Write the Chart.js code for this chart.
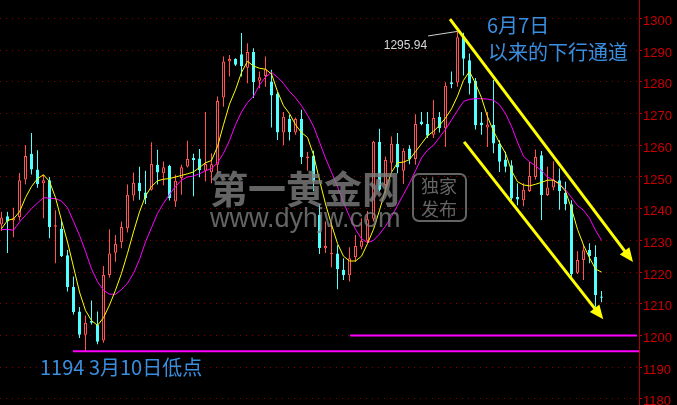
<!DOCTYPE html>
<html>
<head>
<meta charset="utf-8">
<script src="https://cdn.jsdelivr.net/npm/chart.js@4.4.1/dist/chart.umd.min.js"></script>
<style>
  html, body { margin: 0; padding: 0; background: #000; }
  #wrap { width: 677px; height: 405px; position: relative; }
</style>
</head>
<body>
<div id="wrap"><canvas id="kline"></canvas></div>
<script>
// ==============================
// 黄金日K • 6月7日以来的下行通道
// ==============================

// K线（从图上读的，按日顺序）
const opens = [1235,1237.6,1236.3,1237.4,1249.2,1257.3,1252.4,1248,1249,1234.3,
  1233.7,1225.3,1215.3,1207.6,1200.2,1204.6,1203.3,1198.4,1219.1,1226.1,
  1229.4,1233.8,1244.2,1248.2,1245.1,1246,1253.9,1251.2,1253.5,1242.3,
  1249.7,1253.3,1256,1255.8,1252,1251.5,1253.9,1275.1,1286.4,1287.2,
  1288.7,1284.5,1289.4,1280.4,1281.9,1280.1,1276.3,1264,1268.4,1264,
  1268.4,1256,1256.8,1238.1,1227.5,1225.7,1225.9,1220.7,1219,1224.7,
  1228,1229.9,1236.8,1261.1,1247.5,1254.5,1260.5,1252,1259,1255.7,
  1267.5,1266.7,1263.3,1269,1265.4,1279.9,1279.8,1294.3,1286.8,1280.4,
  1267.2,1265.6,1266.5,1260.5,1255.5,1253.7,1243.7,1242.7,1245.6,1250,
  1256.9,1244.3,1246.7,1249,1245,1241.4,1219.8,1223.8,1227,1224.8,
  1212.3];
const highs = [1239,1239,1240.3,1251.3,1260,1263.9,1258.4,1250.7,1250,1239.5,
  1236.3,1227,1218.6,1209,1206.3,1211,1207.6,1221.9,1233.5,1231.7,
  1236,1247.6,1251.4,1253.2,1252,1261,1258.6,1254.9,1253.9,1250.7,
  1253.9,1261.4,1257.3,1258.8,1270.5,1257.5,1275.4,1288,1288.5,1287.5,
  1295.4,1292.2,1290.6,1283.3,1288,1283.8,1276.9,1270.5,1269.6,1268.8,
  1271.2,1257.9,1258.3,1241.5,1236,1235.8,1228.5,1224.4,1227.8,1231.7,
  1237,1239.3,1261.4,1265.2,1256.5,1262.8,1263.9,1259.1,1260,1269.8,
  1270.5,1270.5,1274.3,1270.5,1279.9,1283.3,1295.94,1295.5,1289,1281.2,
  1270.5,1270.5,1280.6,1261.6,1258,1255.3,1248,1248,1254.8,1258.7,
  1258.2,1253.2,1255,1252.7,1248.5,1242.7,1226.6,1228.8,1229.1,1228.5,
  1214];
const lows = [1233,1226,1231,1236.3,1247.7,1250.8,1246.6,1237,1230.7,1222.8,
  1224.8,1213.9,1206.6,1199.2,1195.3,1203.5,1197.2,1197.7,1218.3,1223.3,
  1227.5,1232.5,1242.5,1242.8,1241.5,1245.7,1247.6,1247.4,1242.6,1240.5,
  1244.4,1253,1243.9,1249.9,1248.6,1248,1251.2,1272.2,1281.7,1285,
  1281.7,1279.6,1274.9,1278,1278.5,1265.6,1261.7,1260,1261.5,1263.3,
  1254.1,1252,1245.5,1225.7,1226,1221.5,1214.6,1217.5,1217,1223.3,
  1227.2,1229.1,1236,1245.5,1244.9,1251.8,1251.2,1247.8,1254,1253.9,
  1266.3,1262.3,1262.3,1264,1259.5,1278,1278.5,1282,1276,1265,
  1263.3,1259.5,1257.5,1251.6,1251.5,1242.7,1241.1,1240.8,1245.3,1249.2,
  1236.4,1244,1245.8,1239.7,1239.5,1218.5,1219.4,1217.5,1222.8,1209.1,
  1210.5];
const closes = [1237.2,1236,1237,1249,1256.6,1252.4,1247.7,1249,1234.2,1234.8,
  1225,1215.3,1207.4,1200.2,1204,1204,1198,1219.1,1225.9,1228.9,
  1234.2,1244.4,1248.2,1245.5,1243.4,1254.1,1251.4,1253.1,1243.4,1248.8,
  1253.1,1255.7,1255.4,1252.1,1254.1,1254,1274,1286.4,1287.2,1285.4,
  1284.9,1289.4,1279.9,1281.5,1284,1275.7,1264,1269,1264.2,1268.3,
  1256.3,1256.5,1248.6,1227.6,1228.2,1226.1,1220.9,1219,1224.4,1228.2,
  1229.8,1236.7,1261.1,1246,1255.4,1260.5,1253,1258.3,1255.5,1266.7,
  1266.7,1263,1268.6,1265.4,1278.8,1279.3,1294.1,1287.3,1279.5,1266.3,
  1266.3,1266.6,1260.6,1254.8,1253.2,1243.2,1242.9,1246,1250.3,1256.3,
  1244.3,1246.7,1249.2,1245.6,1241.4,1219.3,1223.8,1226.9,1225,1212.8,
  1211.9];

// 均线（黄 = 短均线，紫 = 长均线），也是照图读的
const maFast = [1233.7,1236.3,1236.8,1239,1243.5,1247,1249.5,1250.7,1248.6,1243.5,
  1236.3,1229.5,1221.6,1213.7,1207.9,1204.7,1203.2,1205.6,1209.6,1214.3,
  1219.6,1225.9,1232.7,1239,1244,1247,1248.8,1249.3,1249.5,1250,
  1250.5,1251,1251.6,1253,1254.5,1255.2,1259.6,1266.5,1273,1277.5,
  1283,1286.5,1285,1284.3,1284,1282.5,1277,1272.5,1270,1266.5,
  1264,1262.5,1257,1249,1241.5,1235,1229,1225,1223.5,1223.5,
  1225,1229,1233.5,1239.5,1246,1251.5,1254.5,1254.7,1255.5,1258,
  1260.5,1263,1264.4,1266.3,1268.6,1271.5,1275.5,1280.5,1283.3,1279.5,
  1275,1269,1264.5,1260.8,1257.5,1252,1248.5,1247.5,1247.2,1247.7,
  1248.3,1249,1249,1247.8,1245.5,1240,1233.5,1228.5,1224.5,1221,
  1220];
const maSlow = [1233.4,1233.5,1233.2,1235.8,1237.9,1240,1241.8,1243.5,1243.3,1243.2,
  1242.4,1240.3,1236,1231.6,1226.5,1221,1217,1214.3,1213,1213,
  1214.5,1216.5,1219.6,1224,1229.5,1234,1238.5,1241.7,1244.5,1247,
  1249,1250,1250.3,1251,1252,1252.6,1254.5,1257.5,1261.5,1266.5,
  1270.5,1273.5,1275.5,1279,1281.5,1283,1281.5,1279.5,1277,1275,
  1272.5,1269.5,1266,1261,1256,1251.5,1247,1242,1237.5,1233.5,
  1230.5,1229.3,1230,1232,1234.5,1237.5,1241,1244.5,1248,1252,
  1256,1258.5,1260,1262.5,1265,1268,1271,1273.8,1274.5,1274.7,
  1274.7,1274.6,1274.2,1272.8,1270,1266,1261,1256.5,1254.8,1253.5,
  1252,1250,1249,1247.7,1246,1243.5,1241,1239.5,1237,1233.2,
  1230];

const yTicks = [1180, 1190, 1200, 1210, 1220, 1230, 1240, 1250, 1260, 1270, 1280, 1290, 1300];

// 标注：[K线序号, 价格]
const lowLevel = 1195;          // 3月10日低点那条线
const lowLineFrom = 11.9;
const supportLevel = 1200;
const supportFrom = 58.1;
const supportTo = 105.9;
const channelUpper = [[74.75, 1299.8], [104.85, 1224.2]];
const channelLower = [[77.1, 1261.1], [99.88, 1206.1]];
const peakLeader = [[71.1, 1294.5], [76, 1295.94]];
const peakText = "1295.94";

const RED = "#ff5252";
const CYAN = "#52ffff";
const YELLOW = "#ffff00";
const MAGENTA = "#ff00ff";
const BLUE = "#3a8ee0";
const WM = "rgba(128,128,128,0.78)";

const xMin = -0.25, xMax = 106.25;
const yMin = 1178.07, yMax = 1305.84;

const idx = opens.map((_, i) => i);
const isUp = i => closes[i] >= opens[i];

function lineSet(points, color, width, order) {
  return {
    type: "line",
    data: points.map(([x, y]) => ({ x, y })),
    borderColor: color,
    borderWidth: width,
    pointRadius: 0,
    pointHoverRadius: 0,
    tension: 0,
    fill: false,
    order
  };
}

function arrowHead(ctx, x1, y1, x2, y2) {
  const a = Math.atan2(y2 - y1, x2 - x1);
  const c = Math.cos(a), s = Math.sin(a);
  const tx = x2 + 4 * c, ty = y2 + 4 * s;
  const len = 14, half = 6;
  ctx.beginPath();
  ctx.moveTo(tx, ty);
  ctx.lineTo(tx - len * c - half * s, ty - len * s + half * c);
  ctx.lineTo(tx - len * c + half * s, ty - len * s - half * c);
  ctx.closePath();
  ctx.fill();
}

// 文字、箭头、水印
const overlay = {
  id: "overlay",
  afterDatasetsDraw(chart) {
    const { ctx, scales: { x, y } } = chart;
    ctx.save();

    ctx.fillStyle = YELLOW;
    for (const seg of [channelUpper, channelLower]) {
      arrowHead(ctx,
        x.getPixelForValue(seg[0][0]), y.getPixelForValue(seg[0][1]),
        x.getPixelForValue(seg[1][0]), y.getPixelForValue(seg[1][1]));
    }

    // 最高点
    const px = x.getPixelForValue(peakLeader[0][0]);
    const py = y.getPixelForValue(peakLeader[0][1]);
    ctx.fillStyle = "#d8d8d8";
    ctx.font = "12px 'Liberation Sans', Arial, sans-serif";
    ctx.textAlign = "right";
    ctx.textBaseline = "alphabetic";
    ctx.fillText(peakText, px - 1, py + 13);

    // 水印
    ctx.textAlign = "left";
    ctx.fillStyle = WM;
    ctx.font = "bold 38px 'Noto Sans CJK SC'";
    ctx.fillText("第一黄金网", 210, 203);
    ctx.font = "27px 'Liberation Sans', Arial, sans-serif";
    ctx.fillText("www.dyhjw.com", 210, 227);
    ctx.strokeStyle = WM;
    ctx.lineWidth = 2;
    ctx.beginPath();
    ctx.roundRect(413, 174, 53, 47, 6);
    ctx.stroke();
    ctx.font = "18px 'Noto Sans CJK SC'";
    ctx.fillText("独家", 421, 193);
    ctx.fillText("发布", 421, 216);

    // 说明文字
    ctx.fillStyle = BLUE;
    ctx.font = "20px 'Noto Sans CJK SC'";
    ctx.fillText("6月7日", 487, 33);
    ctx.fillText("以来的下行通道", 488, 60);
    ctx.fillText("1194 3月10日低点", 40, 375);

    ctx.restore();
  }
};

const wickSet = {
  type: "bar",
  data: idx.map(i => ({ x: i, y: [lows[i], highs[i]] })),
  backgroundColor: idx.map(i => isUp(i) ? RED : CYAN),
  borderWidth: 0,
  grouped: false,
  maxBarThickness: 1,
  barPercentage: 1,
  categoryPercentage: 1,
  inflateAmount: 0,
  order: 10
};

const bodySet = {
  type: "bar",
  data: idx.map(i => ({ x: i, y: [opens[i], closes[i]] })),
  backgroundColor: idx.map(i => isUp(i) ? "#000" : CYAN),
  borderColor: idx.map(i => isUp(i) ? RED : CYAN),
  borderWidth: 1,
  borderSkipped: false,
  grouped: false,
  maxBarThickness: 3,
  barPercentage: 1,
  categoryPercentage: 1,
  inflateAmount: 0,
  order: 9
};

new Chart(document.getElementById("kline"), {
  type: "bar",
  data: {
    datasets: [
      wickSet,
      bodySet,
      lineSet(idx.map(i => [i, maSlow[i]]), MAGENTA, 1, 6),
      lineSet(idx.map(i => [i, maFast[i]]), YELLOW, 1, 5),
      lineSet([[lowLineFrom, lowLevel], [xMax, lowLevel]], MAGENTA, 2, 3),
      lineSet([[supportFrom, supportLevel], [supportTo, supportLevel]], MAGENTA, 2, 3),
      lineSet(channelUpper, YELLOW, 3, 2),
      lineSet(channelLower, YELLOW, 3, 2),
      lineSet(peakLeader, "#cfcfcf", 1, 1)
    ]
  },
  options: {
    responsive: true,
    maintainAspectRatio: false,
    animation: false,
    events: [],
    layout: { padding: 0, autoPadding: false },
    plugins: {
      legend: { display: false },
      tooltip: { enabled: false }
    },
    scales: {
      x: {
        type: "linear",
        min: xMin,
        max: xMax,
        offset: false,
        display: false
      },
      y: {
        position: "right",
        min: yMin,
        max: yMax,
        afterBuildTicks: scale => { scale.ticks = yTicks.map(v => ({ value: v })); },
        afterFit: scale => {
          // 刻度占满整个高度，标签允许被裁掉
          scale.width = 38;
          scale.paddingTop = 0;
          scale.paddingBottom = 0;
        },
        grid: {
          color: "#8c0000",
          lineWidth: 1,
          drawTicks: true,
          tickLength: 3,
          tickColor: "#c00000",
          tickBorderDash: []
        },
        border: { display: true, color: "#b00000", width: 1, dash: [1, 5] },
        ticks: {
          color: "#cc0000",
          padding: 1,
          labelOffset: 3,
          font: { size: 13, family: "'Liberation Sans', Arial, sans-serif" },
          callback: v => String(v)
        }
      }
    }
  },
  plugins: [overlay]
});
</script>
</body>
</html>
